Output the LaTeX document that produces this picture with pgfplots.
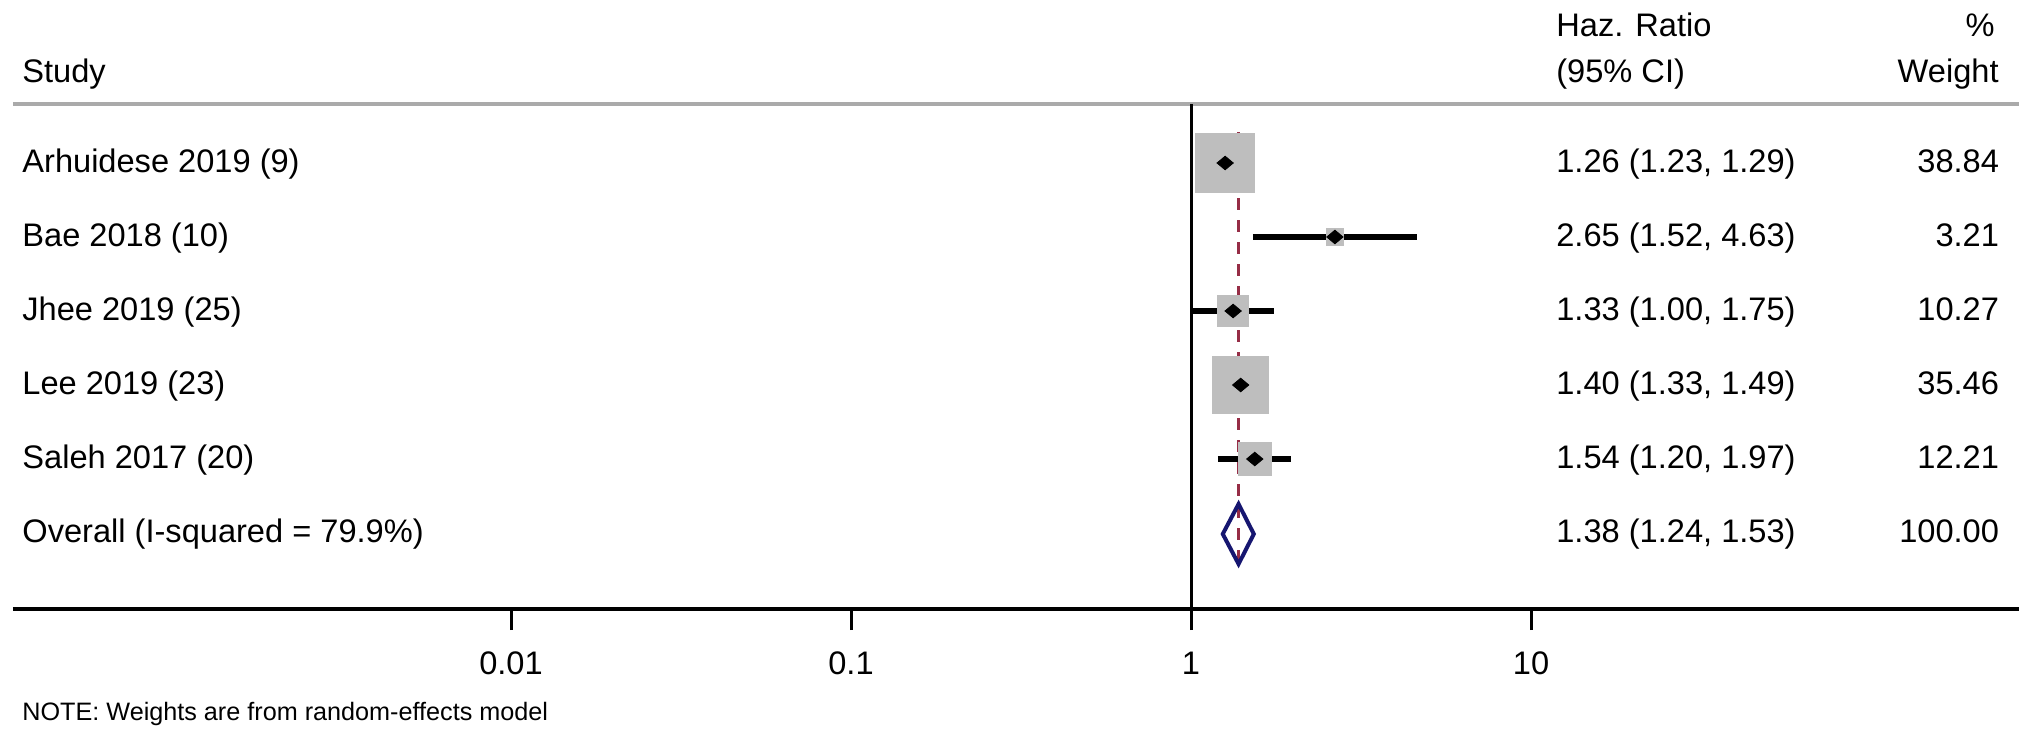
\documentclass[border=0pt]{standalone}
\usepackage{fontspec}
\setmainfont{Liberation Sans}
\usepackage{pgfplots}
\usepackage{pgfplotstable}
\pgfplotsset{compat=1.18}
\definecolor{boxgray}{RGB}{190,190,190}
\definecolor{hdrgray}{RGB}{170,170,170}
\definecolor{stmaroon}{RGB}{150,45,70}
\definecolor{stnavy}{RGB}{22,22,112}
\newcommand{\mainfs}{\fontsize{16.3}{19.5}\selectfont}
\newcommand{\notefs}{\fontsize{12.6}{15}\selectfont}
\tikzset{lw/.style={anchor=base west, inner sep=0pt}, le/.style={anchor=base east, inner sep=0pt}}
% y = 740 - pixel row of the study (row centres)
\pgfplotstableread{
y   hr    lo    hi    w
577 1.26  1.23  1.29  38.84
503 2.65  1.52  4.63  3.21
429 1.33  1.00  1.75  10.27
355 1.40  1.33  1.49  35.46
281 1.54  1.20  1.97  12.21
}\studies
\begin{document}
\begin{tikzpicture}[font=\mainfs]
\begin{axis}[
  scale only axis, width=1003pt, height=304.5pt,
  xmode=log, xmin=3.43e-4, xmax=272.4,
  ymin=131, ymax=740,
  axis x line*=bottom, axis y line=none,
  x axis line style={-, line width=2pt, black},
  clip=false,
  xtick={0.01,0.1,1,10}, xticklabels={0.01,0.1,1,10},
  xminorticks=false,
  tick align=outside, major tick length=10.5pt,
  xtick style={line width=1.5pt, black},
  xticklabel style={font=\mainfs, anchor=base, yshift=-22pt},
  /pgf/number format/assume math mode=true,
]
% full-picture frame (invisible)
\path (axis cs:3.141e-4,0) rectangle (axis cs:297.5,740);
% header rule
\addplot[hdrgray, line width=2pt] coordinates {(3.43e-4,636) (272.4,636)};
% null line
\addplot[black, line width=1.5pt] coordinates {(1,636) (1,131)};
% weight boxes
\addplot[scatter, only marks, mark=square*,
  scatter/use mapped color={draw=boxgray, fill=boxgray},
  mark options={line width=0pt},
  visualization depends on={2.37*sqrt(\thisrow{w}) \as \ms},
  scatter/@pre marker code/.append style={/tikz/mark size=\ms}]
  table[x=hr, y=y] {\studies};
% overall effect dashed line
\addplot[stmaroon, line width=1.6pt, dash pattern=on 6pt off 5pt] coordinates {(1.38,608) (1.38,170)};
% confidence intervals
\addplot[black, line width=3pt] coordinates {(1.23,577) (1.29,577)};
\addplot[black, line width=3pt] coordinates {(1.52,503) (4.63,503)};
\addplot[black, line width=3pt] coordinates {(1.00,429) (1.75,429)};
\addplot[black, line width=3pt] coordinates {(1.33,355) (1.49,355)};
\addplot[black, line width=3pt] coordinates {(1.20,281) (1.97,281)};
% point estimates
\addplot[only marks, mark=diamond*, mark size=3.4pt, mark options={xscale=1.6, fill=black, draw=black}]
  table[x=hr, y=y] {\studies};
% overall diamond
\addplot[stnavy, line width=2pt, line join=miter] coordinates {(1.24,206) (1.38,236) (1.53,206) (1.38,176) (1.24,206)} -- cycle;
% header text
\node[lw] at (axis cs:3.646e-4,657.5) {Study};
\node[lw] at (axis cs:11.84,703) {Haz. Ratio};
\node[lw] at (axis cs:11.84,657.5) {(95\% CI)};
\node[le] at (axis cs:231.6,703) {\%};
\node[le] at (axis cs:237.9,657.5) {Weight};
% study labels
\node[lw] at (axis cs:3.646e-4,567.5) {Arhuidese 2019 (9)};
\node[lw] at (axis cs:3.646e-4,493.5) {Bae 2018 (10)};
\node[lw] at (axis cs:3.646e-4,419.5) {Jhee 2019 (25)};
\node[lw] at (axis cs:3.646e-4,345.5) {Lee 2019 (23)};
\node[lw] at (axis cs:3.646e-4,271.5) {Saleh 2017 (20)};
\node[lw] at (axis cs:3.646e-4,197.5) {Overall (I-squared = 79.9\%)};
% estimates
\node[lw] at (axis cs:11.84,567.5) {1.26 (1.23, 1.29)};
\node[lw] at (axis cs:11.84,493.5) {2.65 (1.52, 4.63)};
\node[lw] at (axis cs:11.84,419.5) {1.33 (1.00, 1.75)};
\node[lw] at (axis cs:11.84,345.5) {1.40 (1.33, 1.49)};
\node[lw] at (axis cs:11.84,271.5) {1.54 (1.20, 1.97)};
\node[lw] at (axis cs:11.84,197.5) {1.38 (1.24, 1.53)};
% weights
\node[le] at (axis cs:238.5,567.5) {38.84};
\node[le] at (axis cs:238.5,493.5) {3.21};
\node[le] at (axis cs:238.5,419.5) {10.27};
\node[le] at (axis cs:238.5,345.5) {35.46};
\node[le] at (axis cs:238.5,271.5) {12.21};
\node[le] at (axis cs:238.5,197.5) {100.00};
% note
\node[lw, font=\notefs] at (axis cs:3.646e-4,20) {NOTE: Weights are from random-effects model};
\end{axis}
\end{tikzpicture}
\end{document}
